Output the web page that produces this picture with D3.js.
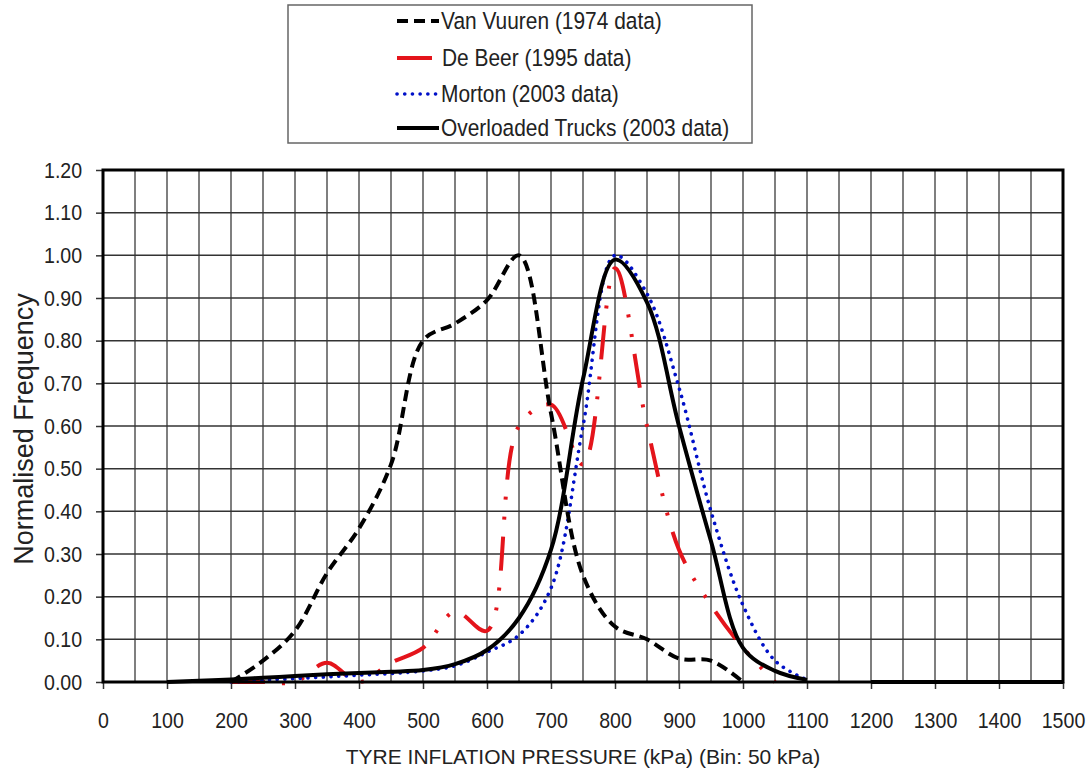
<!DOCTYPE html>
<html>
<head>
<meta charset="utf-8">
<script src="https://cdn.jsdelivr.net/npm/d3@7"></script>
<style>
  body { margin: 0; background: #fff; }
  text { font-family: "Liberation Sans", Arial, sans-serif; fill: #222; }
</style>
</head>
<body>
<svg id="chart" width="1092" height="773"></svg>
<script>
// tyre pressure bins (kPa), 50 kPa apart
const pressure = [100, 150, 200, 250, 300, 350, 400, 450, 500, 550, 600, 650, 700, 750, 800,
                  850, 900, 950, 1000, 1050, 1100, 1150, 1200, 1250, 1300, 1350, 1400, 1450, 1500];

const vanVuuren = [null, null, 0.00, 0.05, 0.12, 0.255, 0.36, 0.51, 0.80, 0.84, 0.895, 1.00, 0.63, 0.25, 0.13,
                   0.10, 0.055, 0.05, 0.00, null, null, null, null, null, null, null, null, null, null];
const deBeer = [null, null, 0.00, 0.00, 0.00, 0.045, 0.00, 0.045, 0.08, 0.165, 0.12, 0.60, 0.65, 0.51, 0.97,
                0.60, 0.31, 0.18, 0.08, 0.00, null, null, null, null, null, null, null, null, null];
const morton = [null, null, 0.00, 0.004, 0.008, 0.012, 0.016, 0.02, 0.026, 0.038, 0.07, 0.11, 0.22, 0.60, 1.00,
                0.91, 0.69, 0.40, 0.18, 0.05, 0.005, null, null, null, null, null, null, null, null];
const overloaded = [0.00, 0.003, 0.006, 0.01, 0.014, 0.018, 0.021, 0.024, 0.028, 0.042, 0.075, 0.15, 0.31, 0.71, 0.99,
                    0.89, 0.60, 0.33, 0.08, 0.026, 0.005, null, 0.00, 0.00, 0.00, 0.00, 0.00, 0.00, 0.00];

const xTicks = d3.range(0, 1501, 100);
const yTicks = d3.range(0, 1.201, 0.1);

const series = [
    {name: "Van Vuuren (1974 data)", values: vanVuuren, color: "#000", width: 4, dash: "11,6"},
    {name: "De Beer (1995 data)", values: deBeer, color: "#e4141b", width: 4, dash: "34,17,3,17,3,17"},
    {name: "Morton (2003 data)", values: morton, color: "#0010c8", width: 3.6, dash: "0.1,7.6", cap: "round"},
    {name: "Overloaded Trucks (2003 data)", values: overloaded, color: "#000", width: 4, dash: null}
];

const squeeze = 0.89; // text in the picture is a little narrow

const margin = {top: 170, right: 29, bottom: 91, left: 103};
const svg = d3.select("#chart");
const width = +svg.attr("width") - margin.left - margin.right,
      height = +svg.attr("height") - margin.top - margin.bottom;

const g = svg.append("g").attr("transform", "translate(" + margin.left + "," + margin.top + ")");

const x = d3.scaleLinear().domain([0, 1500]).range([0, width]);
const y = d3.scaleLinear().domain([0, 1.2]).range([height, 0]);

// grid
g.append("g").selectAll("line")
    .data(d3.range(50, 1500, 50))
    .enter().append("line")
    .attr("x1", d => x(d)).attr("x2", d => x(d))
    .attr("y1", 0).attr("y2", height)
    .attr("stroke", "#555").attr("stroke-width", 1.5);
g.append("g").selectAll("line")
    .data(yTicks.slice(1, -1))
    .enter().append("line")
    .attr("x1", 0).attr("x2", width)
    .attr("y1", d => y(d)).attr("y2", d => y(d))
    .attr("stroke", "#333").attr("stroke-width", 1.5);

// axes
const xAxis = g.append("g")
    .attr("transform", "translate(0," + height + ")")
    .call(d3.axisBottom(x).tickValues(xTicks).tickFormat(d3.format("d"))
        .tickSize(7).tickPadding(23).tickSizeOuter(0));
const yAxis = g.append("g")
    .call(d3.axisLeft(y).tickValues(yTicks).tickFormat(d3.format(".2f"))
        .tickSize(7).tickPadding(16.5).tickSizeOuter(0));
[xAxis, yAxis].forEach(a => {
    a.select(".domain").remove();
    a.selectAll(".tick line").attr("stroke", "#333").attr("stroke-width", 1.5);
    a.selectAll(".tick text")
        .style("font-size", "22px").attr("fill", "#222")
        .attr("transform", "scale(" + squeeze + ",1)");
});

// curves
const line = d3.line()
    .defined(d => d[1] !== null)
    .x(d => x(d[0]))
    .y(d => y(d[1]))
    .curve(d3.curveCatmullRom.alpha(0.5));

[1, 2, 0, 3].forEach(i => {
    const s = series[i];
    g.append("path")
        .datum(pressure.map((p, j) => [p, s.values[j]]))
        .attr("fill", "none")
        .attr("stroke", s.color)
        .attr("stroke-width", s.width)
        .attr("stroke-dasharray", s.dash)
        .attr("stroke-linecap", s.cap || "butt")
        .attr("d", line);
});

// frame
g.append("rect")
    .attr("width", width).attr("height", height)
    .attr("fill", "none").attr("stroke", "#000").attr("stroke-width", 3);

// axis titles
svg.append("text")
    .attr("x", margin.left + width / 2).attr("y", 764)
    .attr("text-anchor", "middle")
    .style("font-size", "21px")
    .text("TYRE INFLATION PRESSURE (kPa) (Bin: 50 kPa)");
svg.append("text")
    .attr("transform", "translate(33," + (margin.top + height / 2 + 3) + ") rotate(-90)")
    .attr("text-anchor", "middle")
    .style("font-size", "27px")
    .text("Normalised Frequency");

// legend
const legend = svg.append("g");
legend.append("rect")
    .attr("x", 288).attr("y", 5).attr("width", 464).attr("height", 138)
    .attr("fill", "#fff").attr("stroke", "#666").attr("stroke-width", 1.5);
const rowY = [21, 58, 94, 128];
series.forEach((s, i) => {
    legend.append("line")
        .attr("x1", 397).attr("x2", i === 1 ? 432 : 439)
        .attr("y1", rowY[i]).attr("y2", rowY[i])
        .attr("stroke", s.color)
        .attr("stroke-width", s.width)
        .attr("stroke-dasharray", i === 1 ? null : s.dash)
        .attr("stroke-linecap", s.cap || "butt");
    legend.append("text")
        .attr("transform", "translate(" + (i === 1 ? 442 : 441) + "," + rowY[i] + ") scale(" + squeeze + ",1)")
        .attr("dy", "0.35em")
        .style("font-size", "23.5px")
        .text(s.name);
});
</script>
</body>
</html>
